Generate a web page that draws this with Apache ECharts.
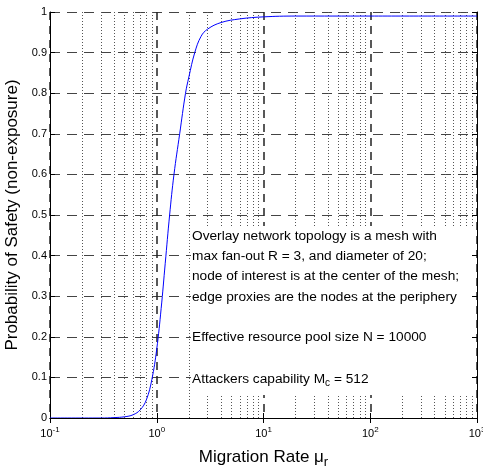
<!DOCTYPE html>
<html>
<head>
    <meta http-equiv="Content-Type" content="text/html; charset=utf-8" />
    <title>Probability of Safety</title>
    <script src="https://cdn.jsdelivr.net/npm/echarts@6/dist/echarts.min.js"></script>
</head>
<body style="margin:0;padding:0;background:#ffffff;">
    <div id="main" style="width:483px;height:470px;"></div>
    <script type="text/javascript">
        // 数据
        var muValues = [0.1, 0.3, 0.4, 0.5, 0.6, 0.7, 0.8, 0.9, 1.0, 1.1, 1.2, 1.32, 1.45, 1.64, 1.86, 2.0, 2.27, 2.6, 3, 4, 6, 10, 20, 100, 1000];
        var probValues = [0, 0, 0.001, 0.003, 0.008, 0.02, 0.045, 0.095, 0.17, 0.27, 0.38, 0.5, 0.6, 0.7, 0.8, 0.84, 0.9, 0.94, 0.958, 0.974, 0.983, 0.988, 0.99, 0.99, 0.99];
        var minorGridX = [0.2, 0.3, 0.4, 0.5, 0.6, 0.7, 0.8, 0.9,
                          2, 3, 4, 5, 6, 7, 8, 9,
                          20, 30, 40, 50, 60, 70, 80, 90,
                          200, 300, 400, 500, 600, 700, 800, 900];
        var noteLines = [
            'Overlay network topology is a mesh with',
            'max fan-out R = 3, and diameter of 20;',
            'node of interest is at the center of the mesh;',
            'edge proxies are the nodes at the periphery'
        ];
        var noteN = 'Effective resource pool size N = 10000';

        var FONT = "'Liberation Sans', Arial, sans-serif";

        var curveData = [];
        for (var i = 0; i < muValues.length; i++) {
            curveData.push([muValues[i], probValues[i]]);
        }
        var minorLines = [];
        for (var j = 0; j < minorGridX.length; j++) {
            minorLines.push({ xAxis: minorGridX[j] });
        }

        var chart = echarts.init(document.getElementById('main'));

        // 注释框（白底遮住网格）
        var noteElems = [{
            type: 'rect',
            shape: { x: 191, y: 226, width: 285, height: 169 },
            style: { fill: '#ffffff' },
            z: 10
        }];
        for (var k = 0; k < noteLines.length; k++) {
            noteElems.push({
                type: 'text', left: 192, top: 229 + k * 20.3, z: 11,
                style: { text: noteLines[k], font: '13.7px ' + FONT, fill: '#000' }
            });
        }
        noteElems.push({
            type: 'text', left: 192, top: 330, z: 11,
            style: { text: noteN, font: '13.7px ' + FONT, fill: '#000' }
        });
        noteElems.push({
            type: 'text', left: 192, top: 370, z: 11,
            style: {
                text: '{a|Attackers capability M}{s|c}{a| = 512}',
                rich: {
                    a: { fontSize: 13.7, fontFamily: FONT, color: '#000', lineHeight: 16 },
                    s: { fontSize: 10, fontFamily: FONT, color: '#000', lineHeight: 16, padding: [8, 0, 0, 0] }
                }
            }
        });

        var option = {
            backgroundColor: '#ffffff',
            animation: false,
            grid: { left: 50, right: 6, top: 12, bottom: 52, outerBoundsMode: 'none', containLabel: false },
            graphic: { elements: noteElems },
            xAxis: [{
                type: 'log', logBase: 10, min: 0.1, max: 1000,
                name: '{t|Migration Rate \u03bc}{s|r}',
                nameLocation: 'middle', nameGap: 22,
                nameTextStyle: {
                    rich: {
                        t: { fontSize: 17, fontFamily: FONT, color: '#000', lineHeight: 20 },
                        s: { fontSize: 13, fontFamily: FONT, color: '#000', lineHeight: 20, padding: [12, 0, 0, 0] }
                    }
                },
                axisLine: { lineStyle: { color: '#000', width: 1 } },
                axisTick: { inside: true, length: 5, lineStyle: { color: '#000' } },
                axisLabel: {
                    margin: 6,
                    formatter: function (v) {
                        var e = Math.round(Math.log(v) / Math.LN10);
                        return '{b|10}{e|' + e + '}';
                    },
                    rich: {
                        b: { fontSize: 11, fontFamily: FONT, color: '#000', lineHeight: 16, padding: [4, 0, 0, 0] },
                        e: { fontSize: 8, fontFamily: FONT, color: '#000', lineHeight: 16, padding: [0, 0, 4, 0] }
                    }
                },
                splitLine: { show: true, lineStyle: { color: '#222', type: [8, 6], width: 1.5 } },
                z: 0
            }, {
                type: 'log', logBase: 10, min: 0.1, max: 1000, position: 'top',
                axisLine: { show: true, lineStyle: { color: '#000', width: 1 } },
                axisTick: { show: true, inside: true, length: 5, lineStyle: { color: '#000' } },
                axisLabel: { show: false },
                splitLine: { show: false },
                z: 20
            }],
            yAxis: [{
                type: 'value', min: 0, max: 1, interval: 0.1,
                name: 'Probability of Safety (non-exposure)',
                nameLocation: 'middle', nameGap: 24,
                nameTextStyle: { fontSize: 17, fontFamily: FONT, color: '#000' },
                axisLine: { show: true, lineStyle: { color: '#000', width: 1 } },
                axisTick: { show: true, inside: true, length: 5, lineStyle: { color: '#000' } },
                axisLabel: {
                    margin: 3, fontSize: 11, fontFamily: FONT, color: '#000',
                    formatter: function (v) { return String(Math.round(v * 10) / 10); }
                },
                splitLine: { show: true, lineStyle: { color: '#444', type: [10, 7], width: 1 } },
                z: 0
            }, {
                type: 'value', min: 0, max: 1, interval: 0.1, position: 'right',
                axisLine: { show: true, lineStyle: { color: '#000', width: 1 } },
                axisTick: { show: true, inside: true, length: 5, lineStyle: { color: '#000' } },
                axisLabel: { show: false },
                splitLine: { show: false },
                z: 20
            }],
            series: [{
                // 次网格线
                type: 'line', data: [], z: 0,
                markLine: {
                    silent: true, symbol: 'none', animation: false,
                    label: { show: false },
                    lineStyle: { color: '#555', type: [1, 2], width: 1 },
                    data: minorLines
                }
            }, {
                type: 'line', data: curveData,
                showSymbol: false, smooth: 0.4,
                lineStyle: { color: '#0000ff', width: 1 },
                z: 15
            }]
        };
        chart.setOption(option);
    </script>
</body>
</html>
